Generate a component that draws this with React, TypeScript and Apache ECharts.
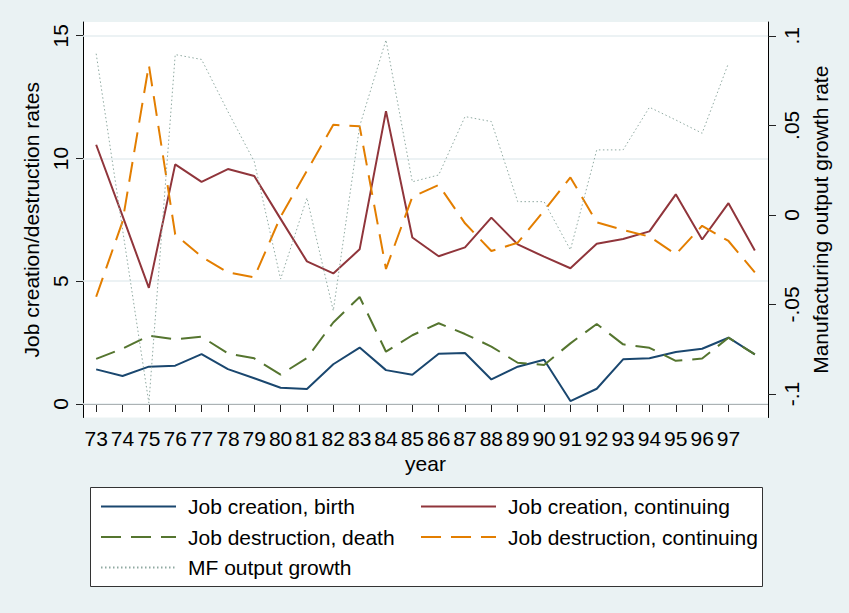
import React, { useEffect, useRef } from "react";
import * as echarts from "echarts";

// Years 1973-1998 (two-digit labels); the last year carries data but no label
const years = [
  "73", "74", "75", "76", "77", "78", "79", "80", "81", "82", "83", "84", "85",
  "86", "87", "88", "89", "90", "91", "92", "93", "94", "95", "96", "97", "98",
];

const jobCreationBirth = [
  1.41, 1.14, 1.52, 1.56, 2.03, 1.42, 1.05, 0.66, 0.61, 1.62, 2.3, 1.38, 1.19,
  2.05, 2.08, 1.0, 1.52, 1.8, 0.12, 0.62, 1.82, 1.86, 2.12, 2.25, 2.7, 2.02,
];

const jobCreationContinuing = [
  10.56, 7.66, 4.73, 9.76, 9.05, 9.57, 9.29, 7.54, 5.81, 5.32, 6.3, 11.93, 6.78,
  6.02, 6.38, 7.59, 6.5, 6.0, 5.53, 6.53, 6.72, 7.03, 8.54, 6.7, 8.18, 6.25,
];

const jobDestructionDeath = [
  1.84, 2.25, 2.78, 2.63, 2.74, 2.06, 1.86, 1.2, 1.87, 3.32, 4.36, 2.13, 2.8,
  3.29, 2.85, 2.34, 1.68, 1.59, 2.47, 3.26, 2.43, 2.29, 1.76, 1.85, 2.7, 2.02,
];

const jobDestructionContinuing = [
  4.37, 7.43, 13.81, 6.91, 6.0, 5.36, 5.16, 7.63, 9.5, 11.37, 11.31, 5.5, 8.44,
  8.92, 7.36, 6.23, 6.57, 7.87, 9.23, 7.4, 7.09, 6.82, 6.1, 7.26, 6.64, 5.36,
];

const mfOutputGrowth = [
  0.09, -0.008, -0.105, 0.0895, 0.0868, 0.0577, 0.0298, -0.0358, 0.0095,
  -0.0535, 0.0495, 0.0977, 0.0185, 0.0223, 0.0549, 0.0521, 0.0074, 0.0074,
  -0.0195, 0.0363, 0.0363, 0.0601, 0.053, 0.0456, 0.0847, null,
];

const leftTicks = [0, 5, 10, 15];
const rightTicks = [-0.1, -0.05, 0, 0.05, 0.1];

const NAMES = {
  birth: "Job creation, birth",
  cont: "Job creation, continuing",
  death: "Job destruction, death",
  dcont: "Job destruction, continuing",
  mf: "MF output growth",
};

const FONT = "'Liberation Sans', Arial, Helvetica, sans-serif";
const BG = "#EAF2F3";
const GRID_LINE = "#E6EEF0";

// Stata-style decimal labels: .1, .05, 0, -.05, -.1
const fmtRight = (v: number) => {
  if (v === 0) return "0";
  const s = String(Math.abs(v)).replace(/^0/, "");
  return (v < 0 ? "-" : "") + s;
};

const lastLabelled = years.length - 1;

// one legend column; the marker dot is hidden so only the line sample shows
const legendColumn = (names: string[], left: number) => ({
  data: names,
  orient: "vertical",
  left,
  top: 496,
  padding: 0,
  itemWidth: 75,
  itemHeight: 20,
  itemGap: 9.5,
  selectedMode: false,
  z: 10,
  itemStyle: { opacity: 0 },
  textStyle: {
    fontSize: 21,
    fontFamily: FONT,
    color: "#000",
    padding: [0, 0, 0, 7],
  },
});

export default function App() {
  const ref = useRef<HTMLDivElement>(null);

  useEffect(() => {
    if (!ref.current) return;
    const chart = echarts.init(ref.current, null, { renderer: "svg" });

    const lineBase = {
      type: "line" as const,
      symbol: "none",
      showSymbol: false,
      connectNulls: false,
      silent: true,
    };

    chart.setOption({
      animation: false,
      backgroundColor: BG,
      textStyle: { fontFamily: FONT, color: "#000" },
      grid: {
        left: 83,
        right: 81,
        top: 22,
        bottom: 195.5,
        show: true,
        backgroundColor: "#ffffff",
        borderWidth: 0,
        containLabel: false,
        outerBoundsMode: "none",
      },
      xAxis: {
        type: "category",
        data: years,
        boundaryGap: true,
        axisLine: { show: true, lineStyle: { color: "#000", width: 1 } },
        axisTick: {
          show: true,
          alignWithLabel: true,
          interval: (i: number) => i < lastLabelled,
          length: 8,
          lineStyle: { color: "#222", width: 1 },
        },
        axisLabel: {
          interval: (i: number) => i < lastLabelled,
          fontSize: 21,
          fontFamily: FONT,
          color: "#000",
          margin: 10,
        },
        splitLine: { show: false },
        name: "year",
        nameLocation: "middle",
        nameGap: 32,
        nameTextStyle: { fontSize: 21, fontFamily: FONT, color: "#000" },
      },
      yAxis: [
        {
          type: "value",
          position: "left",
          min: -0.55,
          max: 15.56,
          axisLine: { show: true, lineStyle: { color: "#000", width: 1 } },
          axisTick: {
            show: true,
            customValues: leftTicks,
            length: 7,
            lineStyle: { color: "#222", width: 1 },
          },
          axisLabel: {
            customValues: leftTicks,
            rotate: 90,
            fontSize: 21,
            fontFamily: FONT,
            color: "#000",
            margin: 12,
          },
          splitLine: { show: false },
          name: "Job creation/destruction rates",
          nameLocation: "middle",
          nameRotate: 90,
          nameGap: 33,
          nameTextStyle: { fontSize: 21, fontFamily: FONT, color: "#000" },
        },
        {
          type: "value",
          position: "right",
          min: -0.1131,
          max: 0.1077,
          axisLine: { show: true, lineStyle: { color: "#000", width: 1 } },
          axisTick: {
            show: true,
            customValues: rightTicks,
            length: 8,
            lineStyle: { color: "#222", width: 1 },
          },
          axisLabel: {
            customValues: rightTicks,
            rotate: 90,
            fontSize: 21,
            fontFamily: FONT,
            color: "#000",
            margin: 13,
            formatter: fmtRight,
          },
          splitLine: { show: false },
          name: "Manufacturing output growth rate",
          nameLocation: "middle",
          nameRotate: 90,
          nameGap: 33,
          nameTextStyle: { fontSize: 21, fontFamily: FONT, color: "#000" },
        },
      ],
      legend: [
        legendColumn([NAMES.birth, NAMES.death, NAMES.mf], 100),
        legendColumn([NAMES.cont, NAMES.dcont], 420),
      ],
      graphic: [
        {
          type: "rect",
          left: 90,
          top: 487,
          z: 1,
          shape: { width: 672, height: 99 },
          style: { fill: "#ffffff", stroke: "#333333", lineWidth: 1 },
        },
      ],
      series: [
        {
          ...lineBase,
          name: NAMES.birth,
          yAxisIndex: 0,
          data: jobCreationBirth,
          lineStyle: { color: "#1A476F", width: 2 },
          itemStyle: { color: "#1A476F" },
          markLine: {
            silent: true,
            z: 1,
            symbol: ["none", "none"],
            label: { show: false },
            lineStyle: { color: GRID_LINE, width: 1.5, type: "solid" },
            data: leftTicks.map((v) => ({ yAxis: v })),
          },
        },
        {
          ...lineBase,
          name: NAMES.cont,
          yAxisIndex: 0,
          data: jobCreationContinuing,
          lineStyle: { color: "#90353B", width: 2 },
          itemStyle: { color: "#90353B" },
        },
        {
          ...lineBase,
          name: NAMES.death,
          yAxisIndex: 0,
          data: jobDestructionDeath,
          lineStyle: { color: "#55752F", width: 2, type: [20, 10] },
          itemStyle: { color: "#55752F" },
        },
        {
          ...lineBase,
          name: NAMES.dcont,
          yAxisIndex: 0,
          data: jobDestructionContinuing,
          lineStyle: { color: "#E37E00", width: 2, type: [20, 10] },
          itemStyle: { color: "#E37E00" },
        },
        {
          ...lineBase,
          name: NAMES.mf,
          yAxisIndex: 1,
          data: mfOutputGrowth,
          lineStyle: { color: "#8FA9A1", width: 1, type: [1.5, 2.5] },
          itemStyle: { color: "#8FA9A1" },
        },
      ],
    });

    return () => chart.dispose();
  }, []);

  return (
    <div
      ref={ref}
      style={{ position: "fixed", left: 0, top: 0, width: 849, height: 613 }}
    />
  );
}
